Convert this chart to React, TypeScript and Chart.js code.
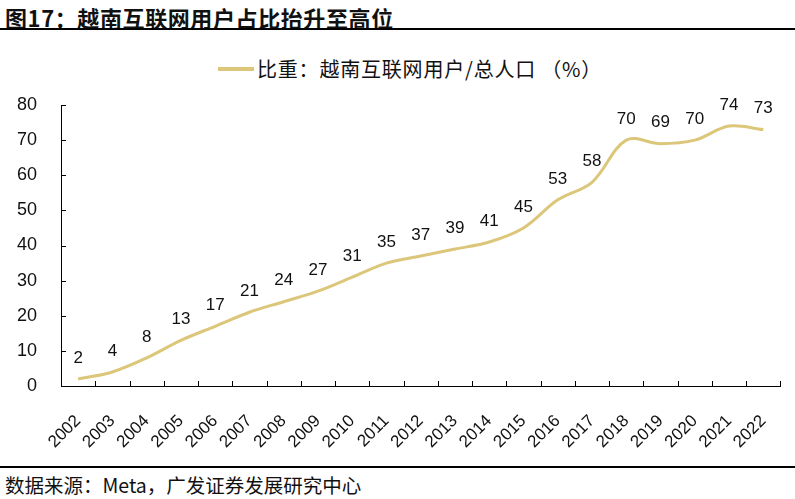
import React, { useEffect, useRef } from "react";
import { Chart, registerables } from "chart.js";

Chart.register(...registerables);

const years = ["2002","2003","2004","2005","2006","2007","2008","2009","2010","2011","2012","2013","2014","2015","2016","2017","2018","2019","2020","2021","2022"];
const shareValues = [2,4,8,13,17,21,24,27,31,35,37,39,41,45,53,58,70,69,70,74,73];
const yTicks = [0,10,20,30,40,50,60,70,80];
const seriesName = "比重：越南互联网用户/总人口 （%）";
const titleText = "图17：越南互联网用户占比抬升至高位";
const sourceText = "数据来源：Meta，广发证券发展研究中心";

const LINE_COLOR = "#DCC679";
const NUM_FONT = "'Liberation Sans', Arial, sans-serif";
const CJK_FONT = "'Noto Sans CJK SC', 'Liberation Sans', sans-serif";

const axisDecor = {
  id: "axisDecor",
  afterDraw(chart: any) {
    const ctx = chart.ctx;
    const x = chart.scales.x;
    const y = chart.scales.y;
    ctx.save();
    ctx.strokeStyle = "#000";
    ctx.lineWidth = 1;
    const n = years.length;
    const step = x.getPixelForValue(1) - x.getPixelForValue(0);
    for (let i = 0; i <= n; i++) {
      const px = Math.round(x.getPixelForValue(i) - step / 2) + 0.5;
      ctx.beginPath();
      ctx.moveTo(px, y.bottom);
      ctx.lineTo(px, y.bottom - 5);
      ctx.stroke();
    }
    for (const v of yTicks) {
      const py = Math.round(y.getPixelForValue(v)) + 0.5;
      ctx.beginPath();
      ctx.moveTo(x.left, py);
      ctx.lineTo(x.left + 5, py);
      ctx.stroke();
    }
    const meta = chart.getDatasetMeta(0);
    ctx.fillStyle = "#111";
    ctx.font = `17px ${NUM_FONT}`;
    ctx.textAlign = "center";
    ctx.textBaseline = "middle";
    meta.data.forEach((pt: any, i: number) => {
      ctx.fillText(String(shareValues[i]), pt.x, pt.y - 21);
    });
    ctx.restore();
  },
};

export default function App() {
  const ref = useRef<HTMLCanvasElement>(null);
  useEffect(() => {
    if (!ref.current) return;
    const chart = new Chart(ref.current, {
      type: "line",
      data: {
        labels: years,
        datasets: [
          {
            label: seriesName,
            data: shareValues,
            borderColor: LINE_COLOR,
            backgroundColor: LINE_COLOR,
            borderWidth: 3,
            pointRadius: 0,
            tension: 0.35,
          },
        ],
      },
      options: {
        animation: false,
        responsive: false,
        maintainAspectRatio: false,
        layout: { padding: { top: 70, right: 12, left: 0, bottom: 0 } },
        plugins: {
          legend: { display: false },
          tooltip: { enabled: false },
        },
        scales: {
          x: {
            type: "category",
            offset: true,
            grid: { display: false },
            border: { display: true, color: "#000", width: 1 },
            ticks: {
              autoSkip: false,
              minRotation: 45,
              maxRotation: 45,
              padding: 17,
              color: "#111",
              font: { family: NUM_FONT, size: 17 },
            },
            afterFit: (s: any) => {
              s.height = 79;
            },
          },
          y: {
            min: 0,
            max: 80,
            grid: { display: false },
            border: { display: true, color: "#000", width: 1 },
            ticks: {
              stepSize: 10,
              padding: 16,
              color: "#111",
              font: { family: NUM_FONT, size: 18 },
            },
            afterFit: (s: any) => {
              s.width = 61;
            },
          },
        },
      },
      plugins: [axisDecor],
    });
    return () => chart.destroy();
  }, []);

  return (
    <div style={{ position: "absolute", left: 0, top: 0, width: 795, height: 499, background: "#fff", overflow: "hidden" }}>
      <div style={{ position: "absolute", left: 5, top: 1, fontFamily: CJK_FONT, fontWeight: 700, fontSize: 22, letterSpacing: 0.6, color: "#111", whiteSpace: "nowrap" }}>
        {titleText}
      </div>
      <div style={{ position: "absolute", left: 0, top: 28, width: 795, height: 2, background: "#000" }} />
      <div style={{ position: "absolute", left: 218, top: 67, width: 36, height: 4, background: LINE_COLOR }} />
      <div style={{ position: "absolute", left: 257, top: 55, lineHeight: "28px", fontFamily: CJK_FONT, fontSize: 20, letterSpacing: 0.8, color: "#111", whiteSpace: "nowrap" }}>
        {seriesName}
      </div>
      <canvas ref={ref} width={795} height={430} style={{ position: "absolute", left: 0, top: 35, width: 795, height: 430 }} />
      <div style={{ position: "absolute", left: 0, top: 466, width: 795, height: 2, background: "#000" }} />
      <div style={{ position: "absolute", left: 5, top: 470, fontFamily: CJK_FONT, fontSize: 19.5, color: "#111", whiteSpace: "nowrap" }}>
        {sourceText}
      </div>
    </div>
  );
}
